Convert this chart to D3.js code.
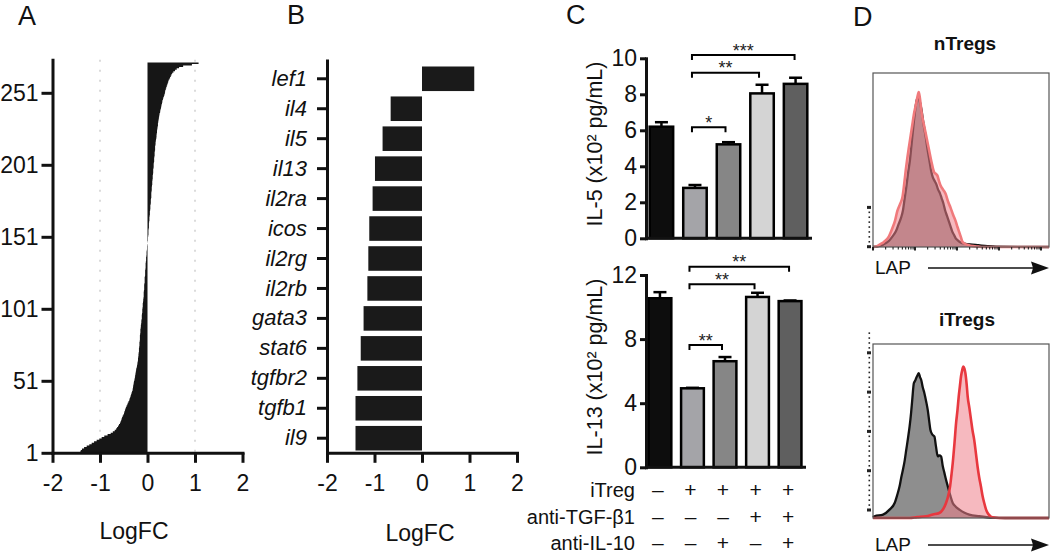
<!DOCTYPE html>
<html><head><meta charset="utf-8">
<script src="https://cdn.jsdelivr.net/npm/d3@7"></script>
<style>
body{margin:0;background:#fff}
svg{display:block}
</style></head><body>
<svg id="c" width="1050" height="555"></svg>
<script>
// ---------------- DATA ----------------
// Panel A: ranked LogFC of all genes (rank 1 = most down)
const rankedLogFC = [
-1.42,-1.41,-1.40,-1.36,-1.31,-1.25,-1.20,-1.15,-1.10,-1.04,-0.99,-0.94,-0.88,-0.80,-0.75,-0.71,-0.67,-0.65,-0.63,-0.61,-0.59,-0.57,
-0.56,-0.55,-0.54,-0.53,-0.51,-0.50,
-0.49,-0.48,-0.47,-0.46,-0.45,-0.43,-0.42,-0.41,-0.39,
-0.38,-0.37,-0.36,-0.35,-0.34,-0.33,-0.32,
-0.31,-0.31,-0.30,-0.30,-0.29,-0.29,-0.28,-0.27,-0.27,-0.26,-0.26,-0.25,-0.25,-0.24,-0.24,-0.23,-0.22,-0.22,-0.21,
-0.21,-0.20,-0.20,-0.20,-0.19,-0.19,-0.19,-0.18,-0.18,-0.18,-0.18,-0.17,-0.17,-0.17,-0.17,-0.16,-0.16,-0.16,-0.16,-0.16,-0.15,-0.15,-0.15,
-0.15,-0.14,-0.14,-0.14,-0.13,-0.13,-0.13,-0.12,-0.12,-0.12,-0.12,-0.11,-0.11,-0.11,-0.11,-0.10,-0.10,-0.10,-0.10,-0.09,-0.09,-0.09,-0.08,
-0.08,-0.08,-0.08,-0.08,-0.07,-0.07,-0.07,-0.07,-0.07,-0.06,-0.06,-0.06,-0.06,-0.06,-0.05,-0.05,-0.05,-0.05,-0.05,-0.04,-0.04,-0.04,-0.04,-0.04,
-0.03,-0.03,-0.03,-0.03,-0.02,-0.02,-0.02,-0.02,-0.01,-0.01,-0.01,-0.01,
0.00,0.00,0.01,0.01,0.01,0.01,0.02,0.02,0.02,0.02,0.02,0.03,0.03,0.03,0.03,
0.03,0.04,0.04,0.04,0.04,0.05,0.05,0.05,0.05,0.06,0.06,0.06,0.06,0.07,0.07,0.07,0.07,0.08,0.08,0.08,0.08,0.08,0.09,0.09,0.09,0.09,0.10,0.10,
0.10,0.10,0.11,0.11,0.11,0.11,0.12,0.12,0.12,0.12,0.13,0.13,0.13,0.13,0.14,0.14,0.14,0.14,0.15,0.15,0.15,0.15,0.16,0.16,0.16,0.16,0.17,0.17,
0.17,0.18,0.18,0.19,0.19,0.19,0.20,0.20,0.20,0.21,0.21,0.22,0.22,0.22,0.23,0.23,0.24,0.24,
0.25,0.25,0.26,0.27,0.27,0.28,0.29,0.29,0.30,0.31,0.31,0.32,0.33,0.34,
0.35,0.36,0.37,0.37,0.38,0.39,0.40,0.41,0.42,0.43,0.44,0.45,
0.47,0.48,0.50,0.51,0.53,
0.56,0.60,0.63,
0.70,0.80,1.07,1.08
];
const rankTicks = [1, 51, 101, 151, 201, 251];
const logfcTicks = [-2, -1, 0, 1, 2];
const logfcGrid = [-1, 1];

// Panel B
const genes = ["lef1","il4","il5","il13","il2ra","icos","il2rg","il2rb","gata3","stat6","tgfbr2","tgfb1","il9"];
const geneLogFC = [1.10,-0.66,-0.83,-0.99,-1.04,-1.11,-1.13,-1.15,-1.23,-1.29,-1.36,-1.40,-1.40];

// Panel C
const groups = ["ctrl","iTreg","iTreg+aIL10","iTreg+aTGF","iTreg+aTGF+aIL10"];
const il5Mean  = [6.20, 2.80, 5.22, 8.05, 8.58];
const il5Err   = [0.25, 0.16, 0.12, 0.48, 0.34];
const il13Mean = [10.55, 4.93, 6.62, 10.63, 10.37];
const il13Err  = [0.38, 0.03, 0.26, 0.26, 0.04];
const il5Ticks = [0, 2, 4, 6, 8, 10];
const il13Ticks = [0, 4, 8, 12];
const il5Sig  = [{a:1,b:2,label:"*"},  {a:1,b:3,label:"**"}, {a:1,b:4,label:"***"}];
const il13Sig = [{a:1,b:2,label:"**"}, {a:1,b:3,label:"**"}, {a:1,b:4,label:"**"}];
const treatRows = ["iTreg","anti-TGF-\u03b21","anti-IL-10"];
const treatITreg  = ["\u2013","+","+","+","+"];
const treatAntiTGF = ["\u2013","\u2013","\u2013","+","+"];
const treatAntiIL10 = ["\u2013","\u2013","+","\u2013","+"];

// Panel D: LAP histograms, [channel %, count % of box]
const nTregIso = [[0,0],[3,0.5],[6,1.5],[9,3.5],[11,6],[13,9],[14.5,13],[16,17],[17,21],[18,28],[19,35],[20,43],[21,50],[22,60],[23,70],[24,79],[25,85],[25.8,86],[26.5,84],[27.5,79],[28.5,72],[30,63],[31,56],[32,50],[33,44],[34,40],[35,38],[36,36],[37,33],[38,31],[39,28],[40,25],[41,21],[42,18],[43,15],[44,12],[45,9],[46,7],[47,5],[48,4],[50,2.5],[52,2],[55,1.5],[60,1],[65,0.5],[70,0.2],[100,0]];
const nTregLAP = [[0,0],[2,0.3],[4,1.5],[6.2,2.9],[9,6],[11,10.8],[12.5,15],[13.8,20.6],[15.5,25],[16.7,28.4],[17.7,36],[18.6,44],[19.5,51],[20.5,58],[21.4,64],[22.3,70],[23.2,76],[24.2,81],[25.2,86],[26,89],[26.6,86],[27.3,80],[28,75],[29,70],[30.4,63],[31.8,56],[33.2,49],[34.7,43],[35.7,42],[36.6,41],[37.5,38],[38.4,35.3],[39.8,33],[41.3,30.4],[42.7,26],[44.1,22.5],[45.5,18.5],[47,14.7],[48,11.5],[48.9,8.8],[50,5.5],[50.8,3],[52,2],[54.5,1],[57,0.5],[60,0.2],[62,0],[100,0]];
const iTregIso = [[0,0.5],[0.9,1],[5.7,1.9],[9.4,4.8],[12.3,8.6],[13.7,13],[15.1,18.2],[16,23],[17,27.7],[18,33],[18.9,39.2],[19.9,46],[20.8,52.6],[21.6,60],[22.3,67.9],[23.2,77.4],[24,79],[24.5,80.3],[25.3,82],[26,83.2],[26.7,81],[27.4,79.3],[28.3,75],[29.2,71.7],[30.2,67],[31.1,62.1],[31.9,56],[32.6,50.7],[33.7,48],[34.9,46.8],[35.8,41],[36.8,35.4],[37.7,36],[38.7,35.4],[39.6,30],[40.6,25.8],[41.5,22],[42.5,18.2],[43.9,13],[45.3,8.6],[47,6.5],[49.1,4.8],[52,3],[54.7,1.9],[60.4,1],[67.9,0.2],[75,0],[100,0]];
const iTregLAP = [[0,0],[20.8,0],[25,0.5],[30.2,1],[34,2],[37.7,2.9],[39.8,5],[41.5,8.6],[42.8,13],[43.8,18.2],[44.6,25],[45.3,31.5],[46.3,43],[47.2,54.5],[48,62],[48.7,69.8],[49.4,76],[50,81.3],[50.7,85],[51.3,87],[51.9,86],[52.5,83.2],[53.2,77],[53.8,69.8],[54.8,63],[55.7,56.4],[56.6,50],[57.5,44.9],[58.5,37],[59.4,29.6],[60.4,23],[61.3,18.2],[62.2,13],[63.2,8.6],[64.2,5],[65.1,2.9],[66.5,1.2],[67.9,0.4],[71.7,0],[100,0]];

// ---------------- DRAW ----------------
const FONT = '"Liberation Sans", Arial, Helvetica, sans-serif';
const INK = "#111";
const svg = d3.select("#c").attr("font-family", FONT);
svg.append("rect").attr("width",1050).attr("height",555).attr("fill","#fff");
const plain = d => String(d);

function styleAxis(g, font, w) {
  g.attr("font-family", FONT);
  g.selectAll(".domain").attr("stroke", INK).attr("stroke-width", w).attr("stroke-linecap","square");
  g.selectAll(".tick line").attr("stroke", INK).attr("stroke-width", w);
  g.selectAll(".tick text").attr("fill", INK).attr("font-size", font);
}
function letter(t, x, y) {
  svg.append("text").attr("x", x).attr("y", y).attr("font-size", 27).attr("fill", INK).text(t);
}

// ---- Panel A ----
letter("A", 18, 25);
const ax = d3.scaleLinear().domain([-2, 2]).range([52.5, 242.5]);
const ay = d3.scaleLinear().domain([1, 274]).range([452.8, 452.8 - 273 * 1.44]);
const gA = svg.append("g");
gA.selectAll("line.grid").data(logfcGrid).join("line")
  .attr("x1", d => ax(d)).attr("x2", d => ax(d))
  .attr("y1", ay(274)).attr("y2", ay(1))
  .attr("stroke", "#c8c8c8").attr("stroke-width", 1.3).attr("stroke-dasharray", "2,8");
const rankArea = d3.area()
  .y((d, i) => ay(i + 1))
  .x0(ax(0))
  .x1(d => ax(d))
  .curve(d3.curveStep);
gA.append("path").attr("d", rankArea(rankedLogFC)).attr("fill", "#161616");
gA.append("g").attr("transform", "translate(0,452.8)")
  .call(d3.axisBottom(ax).tickValues(logfcTicks).tickFormat(plain).tickSize(10).tickPadding(12).tickSizeOuter(0))
  .call(g => styleAxis(g, 23, 3));
gA.append("g").attr("transform", "translate(52.5,0)")
  .call(d3.axisLeft(ay).tickValues(rankTicks).tickFormat(plain).tickSize(11).tickPadding(3).tickSizeOuter(0))
  .call(g => styleAxis(g, 23, 3));
svg.append("text").attr("x", 134).attr("y", 539).attr("text-anchor", "middle")
  .attr("font-size", 23).attr("fill", INK).text("LogFC");

// ---- Panel B ----
letter("B", 287, 24);
const bx = d3.scaleLinear().domain([-2, 2]).range([327, 517]);
const by = d3.scaleBand().domain(genes).range([65, 452]).paddingInner(0.18).paddingOuter(0.05);
const gB = svg.append("g");
gB.selectAll("rect").data(genes).join("rect")
  .attr("x", (d, i) => Math.min(bx(0), bx(geneLogFC[i])))
  .attr("width", (d, i) => Math.abs(bx(geneLogFC[i]) - bx(0)))
  .attr("y", d => by(d)).attr("height", by.bandwidth())
  .attr("fill", "#1a1a1a");
gB.append("g").attr("transform", "translate(0,452.8)")
  .call(d3.axisBottom(bx).tickValues(logfcTicks).tickFormat(plain).tickSize(10).tickPadding(12).tickSizeOuter(0))
  .call(g => styleAxis(g, 23, 3));
gB.append("g").attr("transform", "translate(327,0)")
  .call(d3.axisLeft(by).tickSize(10).tickPadding(10).tickSizeOuter(0))
  .call(g => styleAxis(g, 22, 3))
  .call(g => g.select(".domain").remove())
  .call(g => g.selectAll(".tick text").attr("font-style", "italic"));
gB.append("line").attr("x1", 327.5).attr("x2", 327.5).attr("y1", 61).attr("y2", 452.8)
  .attr("stroke", INK).attr("stroke-width", 3).attr("stroke-linecap", "square");
svg.append("text").attr("x", 420).attr("y", 541).attr("text-anchor", "middle")
  .attr("font-size", 23).attr("fill", INK).text("LogFC");

// ---- Panel C ----
letter("C", 566, 24);
const barFills = ["#0d0d0d", "#a4a4a8", "#868686", "#d4d4d4", "#5f5f5f"];

function barChart(cfg) {
  const g = svg.append("g");
  const x = d3.scaleBand().domain(groups).range(cfg.xr).paddingInner(0.3).paddingOuter(0.14);
  const y = d3.scaleLinear().domain([0, cfg.max]).range(cfg.yr);
  const bw = x.bandwidth();
  const cx = i => x(groups[i]) + bw / 2;
  g.selectAll("rect").data(groups).join("rect")
    .attr("x", d => x(d)).attr("width", bw)
    .attr("y", (d, i) => y(cfg.mean[i])).attr("height", (d, i) => y(0) - y(cfg.mean[i]))
    .attr("fill", (d, i) => barFills[i]).attr("stroke", "#000").attr("stroke-width", 2.5);
  groups.forEach((d, i) => {
    const yt = y(cfg.mean[i] + cfg.err[i]);
    g.append("line").attr("x1", cx(i)).attr("x2", cx(i)).attr("y1", y(cfg.mean[i])).attr("y2", yt)
      .attr("stroke", "#000").attr("stroke-width", 2.5);
    g.append("line").attr("x1", cx(i) - 6.5).attr("x2", cx(i) + 6.5).attr("y1", yt).attr("y2", yt)
      .attr("stroke", "#000").attr("stroke-width", 2.5);
  });
  g.append("g").attr("transform", "translate(646,0)")
    .call(d3.axisLeft(y).tickValues(cfg.ticks).tickFormat(plain).tickSize(6).tickPadding(3).tickSizeOuter(0))
    .call(a => styleAxis(a, 23, 3));
  g.append("line").attr("x1", 646).attr("x2", cfg.xr[1]).attr("y1", y(0)).attr("y2", y(0))
    .attr("stroke", INK).attr("stroke-width", 3);
  cfg.sig.forEach((s, k) => {
    const yy = y(cfg.levels[k]);
    const x1 = cx(s.a) - 3, x2 = cx(s.b) - 3 + (s.b === 4 ? 2 : 0);
    g.append("path").attr("d", `M${x1},${yy + 5}V${yy}H${x2}V${yy + 5}`)
      .attr("fill", "none").attr("stroke", "#000").attr("stroke-width", 2);
    g.append("text").attr("x", (x1 + x2) / 2).attr("y", yy + 1.5).attr("text-anchor", "middle")
      .attr("font-size", 18).attr("fill", "#222").text(s.label);
  });
  g.append("text").attr("transform", `translate(602,${cfg.titleY}) rotate(-90)`)
    .attr("text-anchor", "middle").attr("font-size", 21.5).attr("fill", INK).text(cfg.title);
  return cx;
}
barChart({xr: [645, 812], yr: [238.3, 58.3], max: 10, mean: il5Mean, err: il5Err, ticks: il5Ticks,
  sig: il5Sig, levels: [6.17, 9.2, 10.18], title: "IL-5 (x10\u00b2 pg/mL)", titleY: 144});
const cx2 = barChart({xr: [644, 806], yr: [467.3, 275], max: 12, mean: il13Mean, err: il13Err, ticks: il13Ticks,
  sig: il13Sig, levels: [7.63, 11.43, 12.51], title: "IL-13 (x10\u00b2 pg/mL)", titleY: 367});

const treatSigns = [treatITreg, treatAntiTGF, treatAntiIL10];
const rowY = [497, 524, 550];
treatRows.forEach((r, k) => {
  svg.append("text").attr("x", 635).attr("y", rowY[k]).attr("text-anchor", "end")
    .attr("font-size", 20).attr("fill", INK).text(r);
  treatSigns[k].forEach((s, i) => {
    svg.append("text").attr("x", cx2(i) - 2).attr("y", rowY[k]).attr("text-anchor", "middle")
      .attr("font-size", 21).attr("fill", INK).text(s);
  });
});

// ---- Panel D ----
letter("D", 853, 26);
const hx = d3.scaleLinear().domain([0, 100]).range([873, 1049]);

function histPanel(cfg) {
  const g = svg.append("g");
  const hy = d3.scaleLinear().domain([0, 100]).range([cfg.y0, cfg.y0 - 174]);
  const area = d3.area().x(d => hx(d[0])).y0(hy(0)).y1(d => hy(d[1])).curve(d3.curveMonotoneX);
  const line = d3.line().x(d => hx(d[0])).y(d => hy(d[1])).curve(d3.curveMonotoneX);
  g.append("path").attr("d", area(cfg.iso)).attr("fill", "#7a7a7a").attr("fill-opacity", 0.85);
  g.append("path").attr("d", line(cfg.iso)).attr("fill", "none").attr("stroke", "#111").attr("stroke-width", 2.3);
  g.append("path").attr("d", area(cfg.lap)).attr("fill", "#ef7f8a").attr("fill-opacity", 0.55);
  g.append("path").attr("d", line(cfg.lap)).attr("fill", "none").attr("stroke", cfg.lapStroke).attr("stroke-width", 2.6);
  g.append("rect").attr("x", 873).attr("y", cfg.y0 - 174).attr("width", 176).attr("height", 174)
    .attr("fill", "none").attr("stroke", "#555").attr("stroke-width", 1.2);
  const cy = d3.scaleLinear().domain([0, 100]).range([cfg.c0, cfg.c0 - 196.5]);
  d3.range(0, cfg.cmax + 0.01, 2.5).forEach(v => {
    const major = v % 20 === 0;
    g.append("rect").attr("x", major ? 867 : 868.5).attr("y", cy(v) - (major ? 1.5 : 0.8))
      .attr("width", major ? 4 : 1.6).attr("height", major ? 3 : 1.6).attr("fill", "#222");
  });
  if (cfg.logTicks) {
    const lx = d3.scaleLog().domain([1, Math.pow(10, 4.19)]).range([873, 1049]);
    for (let k = 0; k <= 4; k++) for (let m = 1; m <= 9; m++) {
      const v = m * Math.pow(10, k);
      if (v > lx.domain()[1]) continue;
      g.append("line").attr("x1", lx(v)).attr("x2", lx(v)).attr("y1", cfg.y0).attr("y2", cfg.y0 + (m === 1 ? 3.5 : 2.5))
        .attr("stroke", "#222").attr("stroke-width", m === 1 ? 2 : 1.1);
    }
  }
  g.append("text").attr("x", cfg.tx).attr("y", cfg.ty).attr("text-anchor", "middle")
    .attr("font-size", 19).attr("font-weight", "bold").attr("fill", INK).text(cfg.title);
  g.append("text").attr("x", 875).attr("y", cfg.lapY).attr("font-size", 19).attr("fill", INK).text("LAP");
  const ay2 = cfg.lapY - 6;
  g.append("line").attr("x1", 928).attr("x2", 1036).attr("y1", ay2).attr("y2", ay2).attr("stroke", INK).attr("stroke-width", 1.5);
  g.append("path").attr("d", `M1049,${ay2}L1031,${ay2 - 6.5}L1033,${ay2}L1031,${ay2 + 6.5}Z`).attr("fill", INK);
}
histPanel({y0: 247, iso: nTregIso, lap: nTregLAP, lapStroke: "#f07a7c", c0: 246.7, cmax: 20, logTicks: true,
  title: "nTregs", tx: 965, ty: 50, lapY: 274});
histPanel({y0: 518, iso: iTregIso, lap: iTregLAP, lapStroke: "#e8383f", c0: 510, cmax: 90, logTicks: false,
  title: "iTregs", tx: 967, ty: 326, lapY: 551});
</script>
</body></html>
